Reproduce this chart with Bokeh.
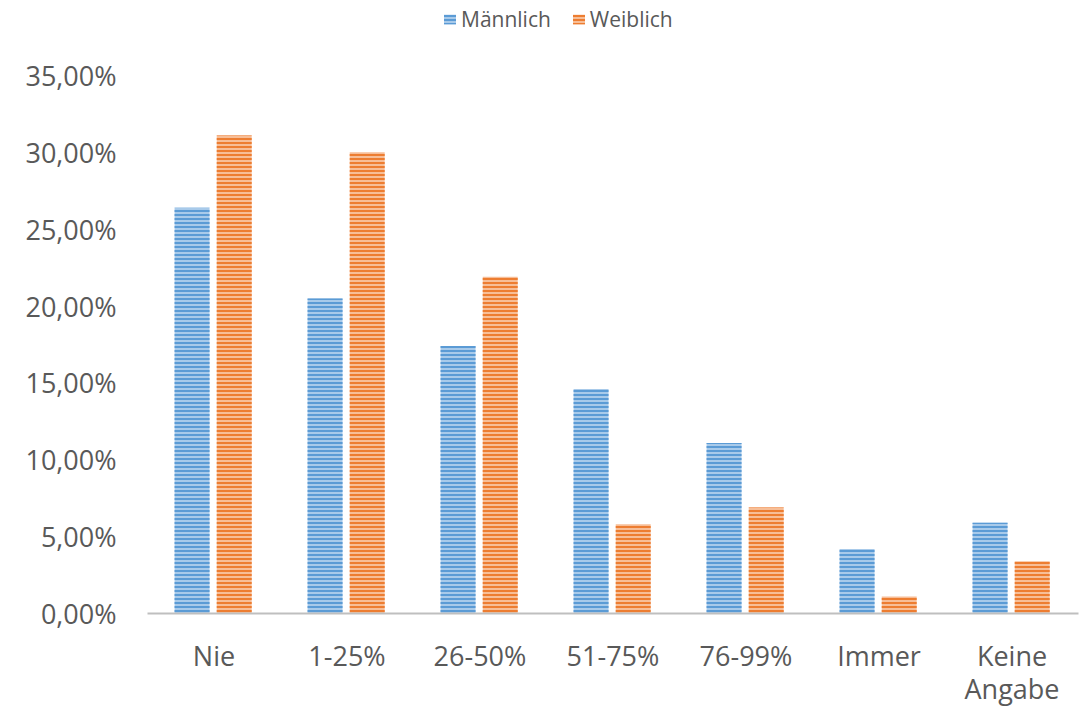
from bokeh.plotting import figure
from bokeh.layouts import column
from bokeh.models import (ColumnDataSource, FactorRange, Range1d, FixedTicker,
                          CustomJSTickFormatter, Legend, LegendItem)
from bokeh.transform import dodge
from bokeh.embed import file_html
from bokeh.resources import INLINE

categories = ["Nie", "1-25%", "26-50%", "51-75%", "76-99%", "Immer", "Keine\nAngabe"]
maennlich = [26.4, 20.5, 17.4, 14.6, 11.1, 4.2, 5.9]
weiblich = [31.1, 30.0, 21.9, 5.8, 6.9, 1.1, 3.4]
y_ticks = [0, 5, 10, 15, 20, 25, 30, 35]
series_names = ["Männlich", "Weiblich"]

src = ColumnDataSource(dict(cat=categories, m=maennlich, w=weiblich))

FONT = "Open Sans"
TXT = "#595959"
M_STYLE = dict(fill_color="#A8CAEA", line_color=None, hatch_pattern="horizontal_line",
               hatch_color="#5B9BD5", hatch_scale=4, hatch_weight=2)
W_STYLE = dict(fill_color="#F7BE97", line_color=None, hatch_pattern="horizontal_line",
               hatch_color="#ED7D31", hatch_scale=4, hatch_weight=2)

# ---- legend strip ----
LEG_H = 40
lf = figure(width=1080, height=LEG_H, output_backend="svg", toolbar_location=None,
            x_axis_location=None, y_axis_location=None,
            x_range=Range1d(0, 1), y_range=Range1d(0, 1),
            min_border_left=0, min_border_right=0, min_border_top=0, min_border_bottom=0)
lf.outline_line_color = None
lf.xgrid.visible = False
lf.ygrid.visible = False
proxy = ColumnDataSource(dict(x=[0], top=[0]))  # zero-size proxy bars, legend only
lm = lf.vbar(x="x", top="top", width=0, source=proxy, **M_STYLE)
lw = lf.vbar(x="x", top="top", width=0, source=proxy, **W_STYLE)
legend = Legend(items=[LegendItem(label=series_names[0], renderers=[lm]),
                       LegendItem(label=series_names[1], renderers=[lw])],
                orientation="horizontal", location=(295, 7),
                label_text_font=FONT, label_text_font_size="21px", label_text_color=TXT,
                glyph_width=15, glyph_height=12, label_standoff=4, spacing=20,
                padding=2, margin=0, border_line_color=None, background_fill_alpha=0)
lf.add_layout(legend, "center")

# ---- main chart ----
p = figure(x_range=FactorRange(*categories, range_padding=0), y_range=Range1d(0, 35),
           width=1080, height=709 - LEG_H, output_backend="svg", toolbar_location=None,
           min_border_left=147, min_border_right=2, min_border_top=75 - LEG_H, min_border_bottom=80)
p.outline_line_color = None
p.xgrid.visible = False
p.ygrid.visible = False

bw = 0.263
p.vbar(x=dodge("cat", -0.165, range=p.x_range), top="m", width=bw, source=src, **M_STYLE)
p.vbar(x=dodge("cat", 0.152, range=p.x_range), top="w", width=bw, source=src, **W_STYLE)

p.yaxis.ticker = FixedTicker(ticks=y_ticks)
p.yaxis.formatter = CustomJSTickFormatter(code="return tick.toFixed(2).replace('.', ',') + '%';")
p.yaxis.axis_line_color = None
p.yaxis.major_tick_line_color = None
p.yaxis.minor_tick_line_color = None
p.yaxis.major_label_standoff = 25
p.yaxis.major_label_text_font = FONT
p.yaxis.major_label_text_font_size = "27px"
p.yaxis.major_label_text_color = TXT

p.xaxis.axis_line_color = "#BFBFBF"
p.xaxis.axis_line_width = 2
p.xaxis.major_tick_line_color = None
p.xaxis.minor_tick_line_color = None
p.xaxis.major_label_standoff = 17
p.xaxis.major_label_text_font = FONT
p.xaxis.major_label_text_font_size = "27px"
p.xaxis.major_label_text_line_height = 0.9
p.xaxis.major_label_text_color = TXT

open("out.html", "w").write(file_html(column(lf, p, spacing=0), INLINE))
